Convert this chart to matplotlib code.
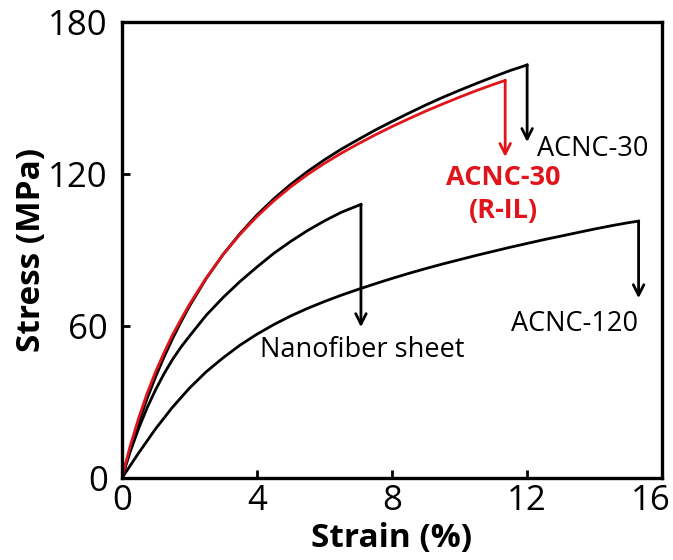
import matplotlib.pyplot as plt
import matplotlib.transforms as mtransforms

plt.rcParams['font.family'] = ['Open Sans', 'DejaVu Sans']

# strain (%) / stress (MPa)
acnc30_strain = [0, 0.25, 0.5, 0.75, 1.0, 1.25, 1.5, 1.75, 2.0, 2.5, 3.0, 3.5, 4.0, 4.5, 5.0, 5.5,
                 6.0, 6.5, 7.0, 7.5, 8.0, 8.5, 9.0, 9.5, 10.0, 10.5, 11.0, 11.5, 12.0]
acnc30_stress = [0, 11.8, 22, 31.5, 40, 47.8, 55, 61.6, 67.8, 78.8, 88.3, 96.5, 103.8, 110.2, 115.9, 121,
                 125.6, 129.8, 133.6, 137.3, 140.7, 144, 147.2, 150.2, 153, 155.7, 158.3, 160.8, 163]

ril_strain = [0, 0.25, 0.5, 0.75, 1.0, 1.25, 1.5, 1.75, 2.0, 2.5, 3.0, 3.5, 4.0, 4.5, 5.0, 5.5,
              6.0, 6.5, 7.0, 7.5, 8.0, 8.5, 9.0, 9.5, 10.0, 10.5, 11.0, 11.35]
ril_stress = [0, 12.8, 23.8, 33.5, 42, 49.5, 56.5, 62.6, 68.5, 79, 88.2, 96.2, 103.2, 109.4, 114.9, 119.8,
              124.2, 128.2, 131.9, 135.4, 138.7, 141.8, 144.8, 147.6, 150.3, 152.9, 155.3, 156.9]

nano_strain = [0, 0.25, 0.5, 0.75, 1.0, 1.25, 1.5, 1.75, 2.0, 2.5, 3.0, 3.5, 4.0, 4.5, 5.0,
               5.5, 6.0, 6.5, 7.08]
nano_stress = [0, 10.5, 19.7, 27.8, 34.9, 41.2, 46.8, 51.7, 56, 64.3, 71.3, 77.6, 83.3, 88.7, 93.4,
               97.7, 101.5, 104.9, 108]

acnc120_strain = [0, 0.5, 1.0, 1.5, 2.0, 2.5, 3.0, 3.5, 4.0, 4.5, 5.0, 5.5, 6.0, 6.5, 7.0, 7.5,
                  8.0, 8.5, 9.0, 9.5, 10.0, 10.5, 11.0, 11.5, 12.0, 12.5, 13.0, 13.5, 14.0, 14.5,
                  15.0, 15.3]
acnc120_stress = [0, 10, 19.5, 28, 35.5, 42, 47.5, 52.5, 56.8, 60.6, 64, 67, 69.7, 72.2, 74.5, 76.7,
                  78.8, 80.8, 82.7, 84.5, 86.2, 87.9, 89.5, 91.1, 92.6, 94.1, 95.5, 96.9, 98.3, 99.6,
                  100.8, 101.4]

# where the drop arrows end
arrow_tips = {'acnc30': 132.6, 'ril': 126.7, 'nano': 59.6, 'acnc120': 71}

red = '#e0151b'

fig = plt.figure(figsize=(6.73, 5.6), dpi=100)
ax = fig.add_axes([0.181, 0.146, 0.803, 0.815])

curves = [
    (acnc30_strain, acnc30_stress, 'black', 'acnc30'),
    (nano_strain, nano_stress, 'black', 'nano'),
    (acnc120_strain, acnc120_stress, 'black', 'acnc120'),
    (ril_strain, ril_stress, red, 'ril'),
]

for x, y, color, key in curves:
    ax.plot(x, y, color=color, linewidth=2.0, solid_joinstyle='round')
    ax.annotate('', xy=(x[-1], arrow_tips[key]), xytext=(x[-1], y[-1]),
                arrowprops=dict(arrowstyle='->,head_length=0.75,head_width=0.38',
                                color=color, lw=2.0, shrinkA=0, shrinkB=0))

ax.text(12.3, 130, 'ACNC-30', fontsize=19.5, va='center', ha='left')
ax.text(11.3, 112, 'ACNC-30\n(R-IL)', fontsize=19.5, color=red, fontweight='bold',
        va='center', ha='center', linespacing=1.35)
ax.text(4.1, 50.5, 'Nanofiber sheet', fontsize=19.5, va='center', ha='left')
ax.text(13.4, 61, 'ACNC-120', fontsize=19.5, va='center', ha='center')

ax.set_xlim(0, 16)
ax.set_ylim(0, 180)
ax.set_xticks([0, 4, 8, 12, 16])
ax.set_yticks([0, 60, 120, 180])
ax.tick_params(direction='in', length=6, width=2, labelsize=25)
ax.tick_params(axis='x', pad=4)
ax.tick_params(axis='y', pad=10)

# last x label sits a little inside the frame, as in the original
last = ax.get_xticklabels()[-1]
last.set_transform(last.get_transform() + mtransforms.ScaledTranslation(-12 / 100, 0, fig.dpi_scale_trans))

for s in ax.spines.values():
    s.set_linewidth(2.4)

ax.set_xlabel('Strain (%)', fontsize=24, fontweight='bold', labelpad=3)
ax.set_ylabel('Stress (MPa)', fontsize=24, fontweight='bold', labelpad=0)

fig.savefig('out.png', dpi=100)
